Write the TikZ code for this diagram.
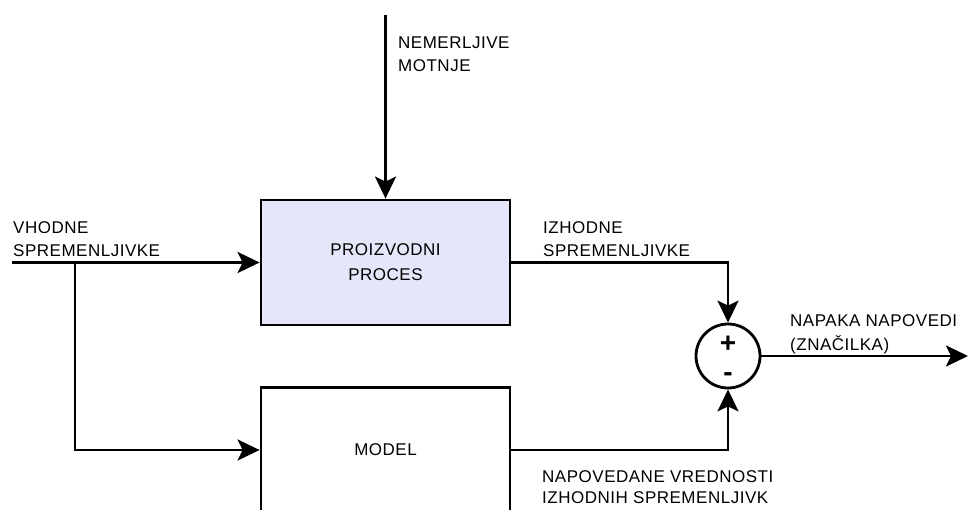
\documentclass[tikz,border=0pt]{standalone}
\usepackage{fontspec}
\setmainfont{Liberation Sans}[LetterSpace=3]
\usetikzlibrary{arrows.meta,positioning}
\tikzset{>={Stealth[length=22pt,width=21pt,inset=5pt]}}
\tikzset{blok/.style={draw,line width=2.8pt,minimum width=249pt,minimum height=125pt,inner sep=0pt,align=center,font=\fontsize{17}{25}\selectfont}}
\tikzset{signal/.style={line width=2.8pt}}
\tikzset{oznaka/.style={align=left,anchor=base west,inner sep=0pt,font=\fontsize{17}{23.5}\selectfont}}
\tikzset{znak/.style={inner sep=0pt,font=\bfseries\fontsize{28}{28}\selectfont}}
\definecolor{lavanda}{RGB}{230,230,250}

\begin{document}
\begin{tikzpicture}[x=1pt,y=-1pt]
      \useasboundingbox (0,0) rectangle (968,510);
      \clip (0,0) rectangle (968,510);
      % bloki
      \node[blok,fill=lavanda] (proces) at (385.5,262.5) {PROIZVODNI\\PROCES};
      \node[blok] (model) at (385.5,450) {MODEL};
      \node[draw,circle,line width=2.8pt,minimum size=64pt,inner sep=0pt] (vsota) at (728,356) {};
      \node[znak,yshift=12pt] (plus) at (vsota) {+};
      \node[znak,yshift=-21pt] (minus) at (vsota) {-};
      %
      \coordinate (motnje) at (385.5,15);
      \coordinate (vhod) at (12,262.5);
      \coordinate (razcep) at (75,262.5);
      \coordinate (izhod) at (968,356);
      % povezave
      \draw[signal,->] (motnje) -- (proces.north);
      \draw[signal,->] (vhod) -- (proces.west);
      \draw[signal,->] (razcep) |- (model.west);
      \draw[signal,->] (proces.east) -| (vsota.north);
      \draw[signal,->] (model.east) -| (vsota.south);
      \draw[signal,->] (vsota.east) -- (izhod);
      % oznake (sidro je osnovnica zadnje vrstice)
      \node[oznaka] (lmotnje) at (398,72) {NEMERLJIVE\\MOTNJE};
      \node[oznaka] (lvhod) at (13,257) {VHODNE\\SPREMENLJIVKE};
      \node[oznaka] (lizhod) at (543,257) {IZHODNE\\SPREMENLJIVKE};
      \node[oznaka] (lnapaka) at (790,350) {NAPAKA NAPOVEDI\\(ZNAČILKA)};
      \node[oznaka,font=\fontsize{17}{21.5}\selectfont] (lnapoved) at (542,503.5) {NAPOVEDANE VREDNOSTI\\IZHODNIH SPREMENLJIVK};
\end{tikzpicture}
\end{document}
